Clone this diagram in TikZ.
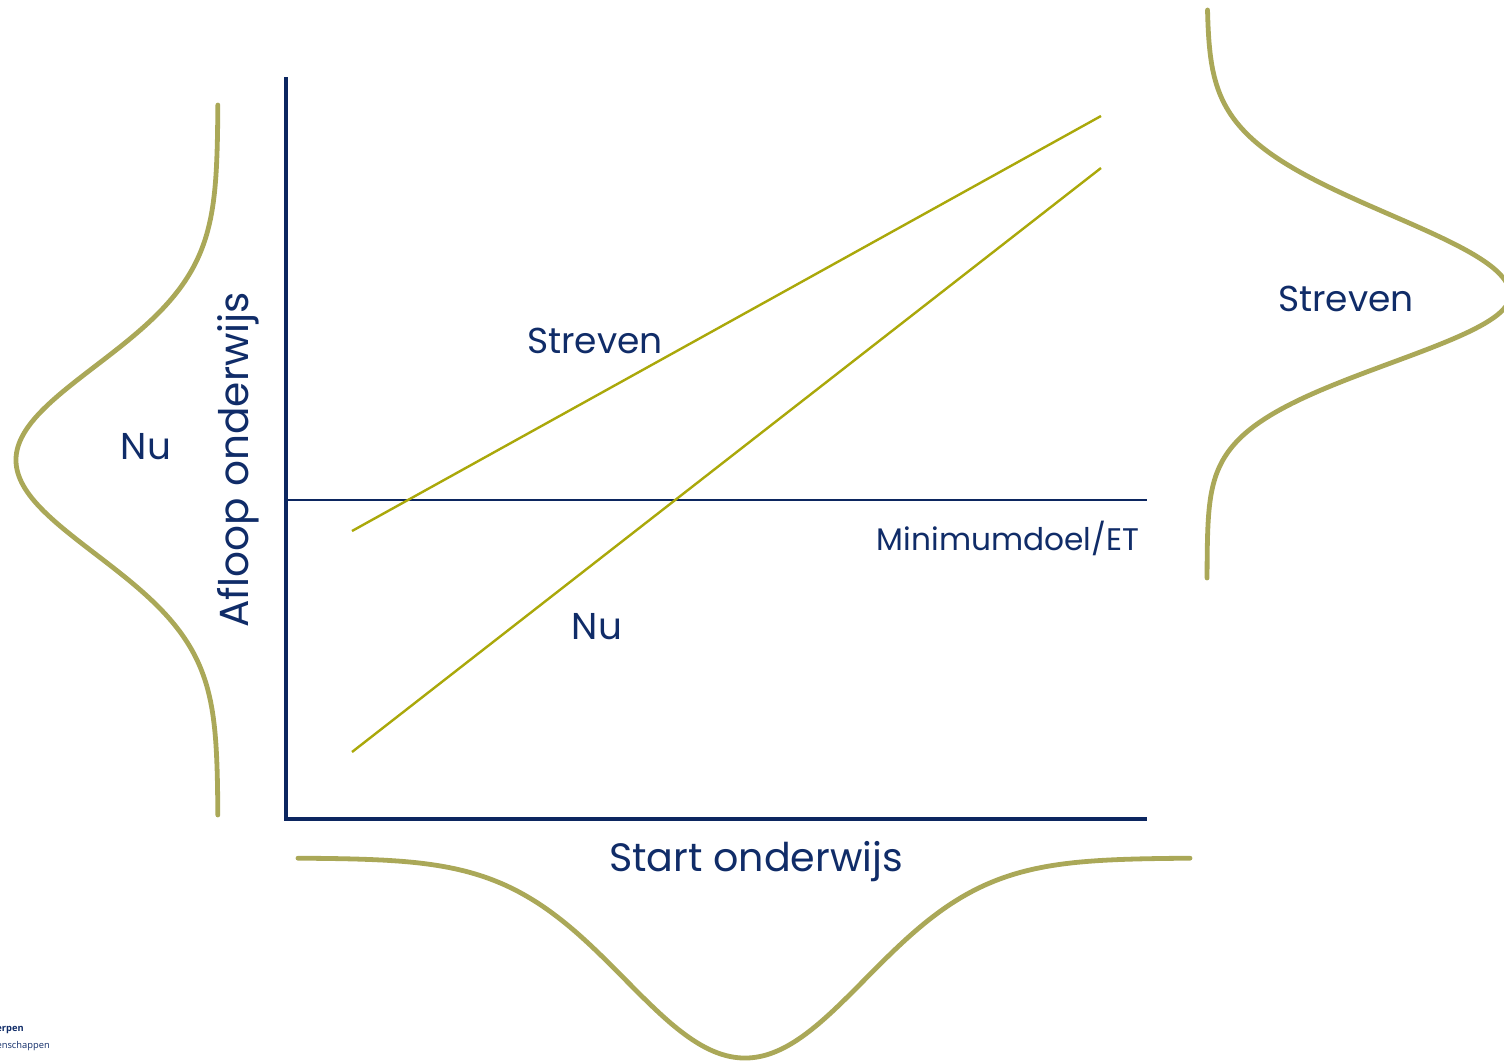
\documentclass[tikz,border=0pt]{standalone}
\usepackage{fontspec}
\setmainfont{Poppins}
\newfontfamily\logofont{Open Sans}
\definecolor{navy}{RGB}{16,44,104}
\definecolor{axisnavy}{RGB}{12,38,96}
\definecolor{olivecurve}{RGB}{170,168,88}
\definecolor{oliveline}{RGB}{170,168,10}
\begin{document}
\begin{tikzpicture}[x=0.75pt,y=-0.75pt,
  axisline/.style={draw=axisnavy,line width=3pt},
  minline/.style={draw=axisnavy,line width=1.5pt},
  trendline/.style={draw=oliveline,line width=1.8pt},
  distcurve/.style={draw=olivecurve,line width=3.6pt,line cap=round},
  lbl/.style={text=navy,inner sep=0pt,font=\fontsize{27}{32}\selectfont}]
\useasboundingbox (0,0) rectangle (1504,1061);
\clip (0,0) rectangle (1504,1061);
% axes
\coordinate (ytop) at (286,77);
\coordinate (origin) at (286,819);
\coordinate (xend) at (1147,819);
\draw[axisline] (ytop) -- (origin) -- (xend);
% minimum line
\coordinate (minL) at (286,500);
\coordinate (minR) at (1147,500);
\draw[minline] (minL) -- (minR);
% trend lines
\coordinate (sA) at (352,531);
\coordinate (sB) at (1101,116);
\coordinate (nA) at (352,752);
\coordinate (nB) at (1101,168);
\draw[trendline] (sA) -- (sB);
\draw[trendline] (nA) -- (nB);
% distributions
\draw[distcurve] plot[variable=\t,domain=105:815,samples=160,smooth]
  ({218-202*exp(-((\t-460)/94)^2/2)},\t);
\draw[distcurve] plot[variable=\t,domain=10:295,samples=100,smooth]
  ({1207+303*exp(-((\t-295)/80)^2/2)},\t);
\draw[distcurve] plot[variable=\t,domain=295:578,samples=100,smooth]
  ({1207+303*exp(-((\t-295)/68)^2/2)},\t);
\draw[distcurve] plot[variable=\t,domain=298:1190,samples=180,smooth]
  (\t,{858+200*exp(-((\t-745)/120)^2/2)});
% labels
\node[lbl] (lstreven) at (595,341) {Streven};
\node[lbl,font=\fontsize{28}{32}\selectfont] (lnu) at (597,627) {Nu};
\node[lbl,font=\fontsize{23.4}{28}\selectfont] (lmin) at (1008,538) {Minimumdoel/ET};
\node[lbl,rotate=90,font=\fontsize{30.5}{36}\selectfont] (lafloop) at (238,460) {Afloop onderwijs};
\node[lbl,font=\fontsize{29.7}{36}\selectfont] (lstart) at (756,862) {Start onderwijs};
\node[lbl,font=\fontsize{28}{32}\selectfont] (lnuleft) at (146,447) {Nu};
\node[lbl] (lstrevenright) at (1346,299) {Streven};
% cut-off logo text
\node[anchor=east,inner sep=0pt,text=navy,font=\logofont\bfseries\fontsize{7}{8}\selectfont] (logo1) at (24,1030) {erpen};
\node[anchor=east,inner sep=0pt,text=navy,font=\logofont\fontsize{7}{8}\selectfont] (logo2) at (50,1046) {tenschappen};
\end{tikzpicture}
\end{document}
